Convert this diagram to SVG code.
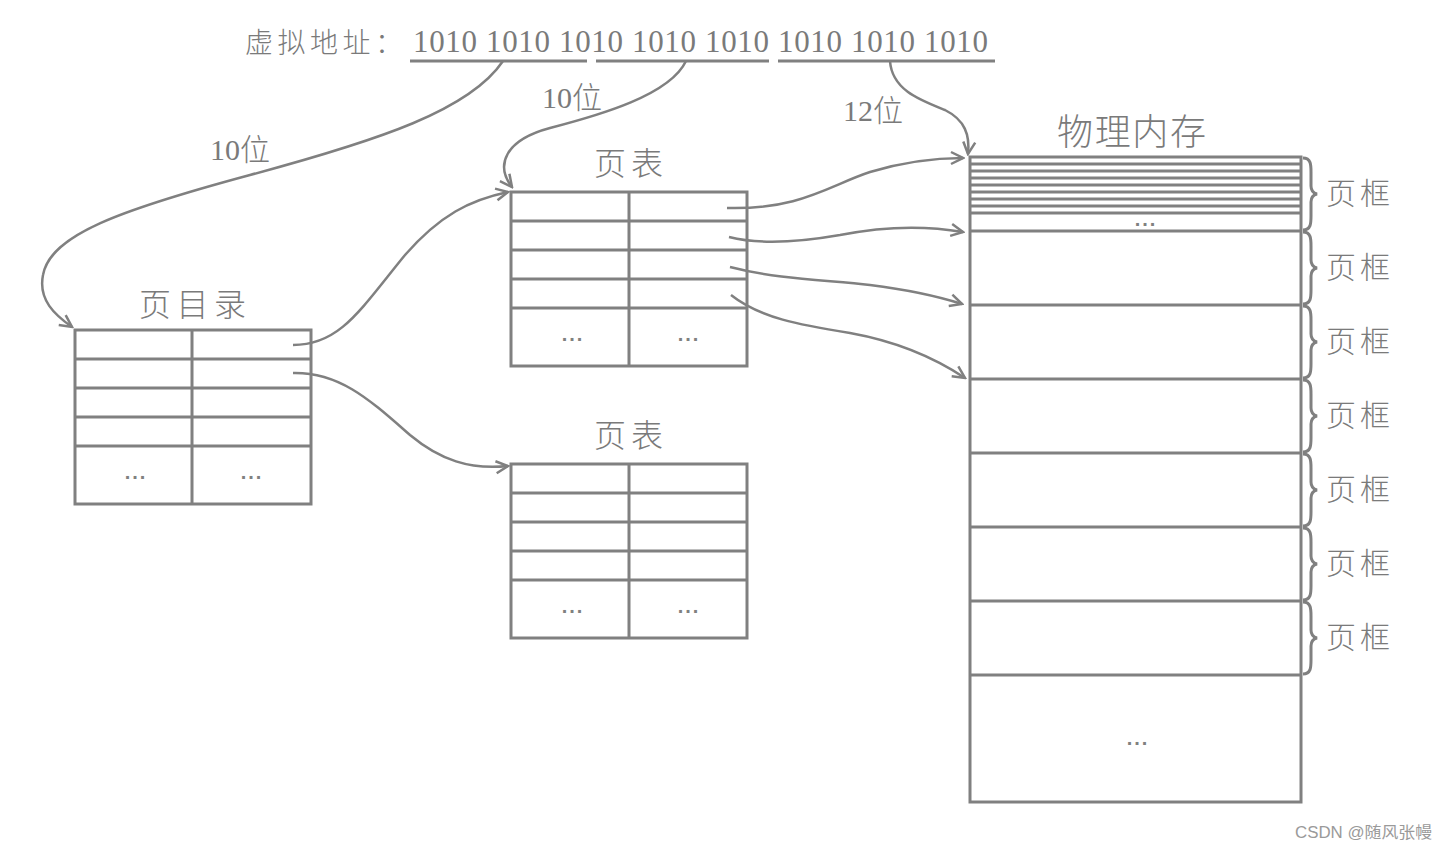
<svg xmlns="http://www.w3.org/2000/svg" width="1446" height="851" viewBox="0 0 1446 851">
<defs>
<marker id="ah" viewBox="-14 -8 16 16" markerWidth="16" markerHeight="16" refX="0" refY="0" orient="auto" markerUnits="userSpaceOnUse">
<path d="M-12,-6 L0,0 L-12,6" fill="none" stroke="#808080" stroke-width="2.5"/>
</marker>
</defs>
<style>
.ln{stroke:#808080;stroke-width:3;fill:none}
.tb{stroke:#808080;stroke-width:3;fill:#fff}
.cn{font-family:"Noto Sans CJK SC","Noto Sans",sans-serif;fill:#7a7a7a;font-weight:300}
.num{font-family:"Liberation Serif",serif;fill:#7a7a7a}
.dots{font-family:"Liberation Sans",sans-serif;fill:#808080;font-size:20px;font-weight:bold;text-anchor:middle;letter-spacing:2px}
.con{stroke:#808080;stroke-width:2.5;fill:none;marker-end:url(#ah)}
</style>
<rect width="1446" height="851" fill="#fff"/>

<g id="address">
<text class="cn" x="245" y="53" font-size="28" textLength="158" lengthAdjust="spacing">虚拟地址：</text>
<text class="num" x="413" y="52" font-size="31" textLength="575" lengthAdjust="spacing">1010 1010 1010 1010 1010 1010 1010 1010</text>
<line class="ln" x1="410" y1="61" x2="587" y2="61"/>
<line class="ln" x1="596" y1="61" x2="769" y2="61"/>
<line class="ln" x1="778" y1="61" x2="995" y2="61"/>
</g>

<g id="labels">
<text x="210" y="160" font-size="30"><tspan class="num">10</tspan><tspan class="cn">位</tspan></text>
<text x="542" y="108" font-size="30"><tspan class="num">10</tspan><tspan class="cn">位</tspan></text>
<text x="843" y="121" font-size="30"><tspan class="num">12</tspan><tspan class="cn">位</tspan></text>
</g>

<g id="page-directory">
<text class="cn" x="139" y="316" font-size="32" textLength="107" lengthAdjust="spacing">页目录</text>
<rect class="tb" x="75" y="330" width="236" height="174"/>
<path class="ln" d="M75,359H311M75,388H311M75,417H311M75,446H311M192,330V504"/>
<text class="dots" x="136" y="479">...</text>
<text class="dots" x="252" y="479">...</text>
</g>

<g id="page-table-1">
<text class="cn" x="594" y="175" font-size="32" textLength="69" lengthAdjust="spacing">页表</text>
<rect class="tb" x="511" y="192" width="236" height="174"/>
<path class="ln" d="M511,221H747M511,250H747M511,279H747M511,308H747M629,192V366"/>
<text class="dots" x="573" y="341">...</text>
<text class="dots" x="689" y="341">...</text>
</g>

<g id="page-table-2">
<text class="cn" x="594" y="447" font-size="32" textLength="69" lengthAdjust="spacing">页表</text>
<rect class="tb" x="511" y="464" width="236" height="174"/>
<path class="ln" d="M511,493H747M511,522H747M511,551H747M511,580H747M629,464V638"/>
<text class="dots" x="573" y="613">...</text>
<text class="dots" x="689" y="613">...</text>
</g>

<g id="physical-memory">
<text class="cn" x="1057" y="145" font-size="36" textLength="149" lengthAdjust="spacing">物理内存</text>
<rect class="tb" x="970" y="157" width="331" height="645"/>
<path class="ln" d="M970,164H1301M970,171H1301M970,178H1301M970,185H1301M970,192H1301M970,199H1301M970,206H1301M970,213H1301"/>
<text class="dots" x="1146" y="226">...</text>
<path class="ln" d="M970,231H1301M970,305H1301M970,379H1301M970,453H1301M970,527H1301M970,601H1301M970,675H1301"/>
<text class="dots" x="1138" y="745">...</text>
</g>

<g id="frames">
<path class="ln" stroke-width="2.5" d="M1303,158C1311,158 1311,165 1311,172L1311,186C1311,191 1313,193 1317,194C1313,195 1311,197 1311,202L1311,216C1311,223 1311,230 1303,230"/>
<path class="ln" stroke-width="2.5" d="M1303,232C1311,232 1311,239 1311,246L1311,260C1311,265 1313,267 1317,268C1313,269 1311,271 1311,276L1311,290C1311,297 1311,304 1303,304"/>
<path class="ln" stroke-width="2.5" d="M1303,306C1311,306 1311,313 1311,320L1311,334C1311,339 1313,341 1317,342C1313,343 1311,345 1311,350L1311,364C1311,371 1311,378 1303,378"/>
<path class="ln" stroke-width="2.5" d="M1303,380C1311,380 1311,387 1311,394L1311,408C1311,413 1313,415 1317,416C1313,417 1311,419 1311,424L1311,438C1311,445 1311,452 1303,452"/>
<path class="ln" stroke-width="2.5" d="M1303,454C1311,454 1311,461 1311,468L1311,482C1311,487 1313,489 1317,490C1313,491 1311,493 1311,498L1311,512C1311,519 1311,526 1303,526"/>
<path class="ln" stroke-width="2.5" d="M1303,528C1311,528 1311,535 1311,542L1311,556C1311,561 1313,563 1317,564C1313,565 1311,567 1311,572L1311,586C1311,593 1311,600 1303,600"/>
<path class="ln" stroke-width="2.5" d="M1303,602C1311,602 1311,609 1311,616L1311,630C1311,635 1313,637 1317,638C1313,639 1311,641 1311,646L1311,660C1311,667 1311,674 1303,674"/>
<text class="cn" x="1326" y="204" font-size="30" textLength="64" lengthAdjust="spacing">页框</text>
<text class="cn" x="1326" y="278" font-size="30" textLength="64" lengthAdjust="spacing">页框</text>
<text class="cn" x="1326" y="352" font-size="30" textLength="64" lengthAdjust="spacing">页框</text>
<text class="cn" x="1326" y="426" font-size="30" textLength="64" lengthAdjust="spacing">页框</text>
<text class="cn" x="1326" y="500" font-size="30" textLength="64" lengthAdjust="spacing">页框</text>
<text class="cn" x="1326" y="574" font-size="30" textLength="64" lengthAdjust="spacing">页框</text>
<text class="cn" x="1326" y="648" font-size="30" textLength="64" lengthAdjust="spacing">页框</text>
</g>

<g id="connectors">
<path class="con" d="M503,61C470,110 380,140 250,175C120,210 50,235 43,275C38,300 55,315 72,327"/>
<path class="con" d="M686,61C670,95 600,115 550,128C505,140 495,165 512,187"/>
<path class="con" d="M890,61C892,90 920,100 945,110C965,120 970,135 968,154"/>
<path class="con" d="M293,345C340,345 360,310 405,255C440,215 470,200 508,192"/>
<path class="con" d="M293,373C340,372 370,400 410,435C440,460 470,470 508,466"/>
<path class="con" d="M727,208C800,210 830,185 870,172C910,160 940,158 963,158"/>
<path class="con" d="M729,237C760,245 800,242 840,235C900,223 940,228 963,232"/>
<path class="con" d="M730,267C780,280 830,280 870,285C910,290 940,297 962,304"/>
<path class="con" d="M731,295C760,318 800,325 850,333C900,342 935,358 965,378"/>
</g>

<text x="1295" y="838" font-family="Liberation Sans,Noto Sans CJK SC,sans-serif" font-size="16" fill="#9a9a9a" textLength="137" lengthAdjust="spacingAndGlyphs">CSDN @随风张幔</text>
</svg>
